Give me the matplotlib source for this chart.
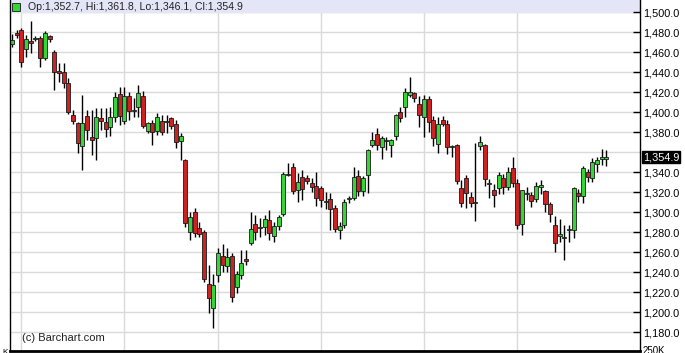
#!/usr/bin/env python3

import matplotlib
matplotlib.use('Agg')
import matplotlib.pyplot as plt
import matplotlib.ticker as tkr
import numpy as np

plt.rcParams['font.family'] = ['Liberation Sans', 'DejaVu Sans']

# daily OHLC
opens = [1468, 1479, 1482, 1463, 1471, 1473, 1474, 1454, 1476, 1460, 1441, 1440, 1429, 1397, 1389, 1366,
         1396, 1375, 1374, 1394, 1390, 1385, 1395, 1418, 1391, 1416, 1401, 1405, 1416, 1381, 1389, 1381,
         1391, 1390, 1394, 1388, 1371, 1352, 1280, 1300, 1284, 1280, 1228, 1204, 1237, 1256, 1246, 1256,
         1225, 1237, 1253, 1269, 1288, 1284, 1285, 1292, 1276, 1286, 1298, 1338, 1345, 1322, 1335, 1334,
         1329, 1326, 1324, 1310, 1313, 1304, 1282, 1287, 1313, 1314, 1336, 1321, 1337, 1367, 1378, 1365,
         1371, 1367, 1376, 1400, 1405, 1417, 1419, 1408, 1395, 1413, 1392, 1368, 1392, 1388, 1365, 1367,
         1324, 1334, 1315, 1309, 1366, 1367, 1328, 1322, 1324, 1334, 1325, 1344, 1329, 1288, 1318, 1317,
         1313, 1325, 1321, 1308, 1287, 1276, 1274, 1282, 1282, 1319, 1316, 1340, 1334, 1348, 1353, 1352.7]
highs = [1478, 1482, 1484, 1477, 1491, 1476, 1476, 1481, 1477, 1462, 1449, 1449, 1434, 1402, 1390, 1417,
         1402, 1402, 1404, 1404, 1404, 1405, 1420, 1425, 1425, 1420, 1414, 1427, 1421, 1390, 1392, 1399,
         1397, 1397, 1395, 1392, 1379, 1353, 1300, 1304, 1290, 1282, 1247, 1238, 1264, 1268, 1264, 1259,
         1241, 1262, 1262, 1300, 1297, 1294, 1297, 1302, 1290, 1297, 1340, 1349, 1349, 1339, 1342, 1337,
         1334, 1340, 1326, 1320, 1319, 1307, 1290, 1313, 1316, 1345, 1342, 1336, 1363, 1380, 1384, 1376,
         1375, 1373, 1398, 1405, 1424, 1435, 1420, 1416, 1417, 1416, 1396, 1395, 1396, 1392, 1367, 1368,
         1332, 1337, 1320, 1369, 1376, 1368, 1333, 1328, 1340, 1338, 1345, 1355, 1333, 1322, 1325, 1320,
         1330, 1332, 1322, 1310, 1296, 1293, 1287, 1287, 1325, 1323, 1346, 1343, 1354, 1355, 1363, 1361.8]
lows = [1465, 1474, 1445, 1455, 1459, 1471, 1445, 1452, 1470, 1422, 1430, 1424, 1398, 1388, 1359, 1342,
        1372, 1357, 1352, 1382, 1375, 1376, 1390, 1387, 1388, 1392, 1395, 1395, 1384, 1379, 1367, 1377,
        1377, 1379, 1383, 1364, 1352, 1285, 1272, 1275, 1275, 1230, 1199, 1184, 1230, 1240, 1240, 1210,
        1219, 1233, 1247, 1267, 1272, 1275, 1277, 1272, 1270, 1282, 1296, 1336, 1318, 1310, 1312, 1328,
        1320, 1306, 1305, 1303, 1282, 1280, 1273, 1284, 1309, 1312, 1316, 1316, 1319, 1365, 1362, 1353,
        1362, 1355, 1372, 1390, 1395, 1415, 1410, 1385, 1375, 1380, 1366, 1359, 1386, 1358, 1355, 1328,
        1305, 1304, 1305, 1291, 1362, 1326, 1314, 1305, 1318, 1318, 1322, 1325, 1283, 1277, 1312, 1305,
        1310, 1318, 1300, 1290, 1260, 1270, 1252, 1270, 1274, 1310, 1309, 1330, 1330, 1340, 1347, 1346.1]
closes = [1472, 1477, 1450, 1473, 1469, 1474, 1454, 1479, 1473, 1440, 1439, 1429, 1400, 1391, 1369, 1389,
          1382, 1372, 1395, 1391, 1383, 1395, 1415, 1396, 1416, 1401, 1402, 1419, 1386, 1389, 1380, 1395,
          1380, 1391, 1386, 1370, 1376, 1289, 1295, 1279, 1278, 1233, 1214, 1227, 1259, 1247, 1255, 1215,
          1238, 1249, 1251, 1283, 1280, 1285, 1293, 1279, 1286, 1295, 1338, 1337, 1321, 1330, 1323, 1331,
          1325, 1314, 1312, 1311, 1303, 1283, 1286, 1310, 1314, 1335, 1321, 1334, 1362, 1372, 1367, 1374,
          1372, 1372, 1397, 1394, 1420, 1420, 1414, 1397, 1413, 1390, 1374, 1388, 1388, 1365, 1366, 1331,
          1309, 1319, 1309, 1310, 1370, 1333, 1329, 1317, 1337, 1325, 1340, 1329, 1287, 1322, 1319, 1311,
          1326, 1327, 1308, 1298, 1269, 1278, 1275, 1283, 1324, 1316, 1344, 1335, 1350, 1352, 1355, 1354.9]
month_starts = [2, 24, 44, 66, 88, 108]
price_ticks = [1180, 1200, 1220, 1240, 1260, 1280, 1300, 1320, 1340, 1380, 1400, 1420, 1440, 1460, 1480, 1500]

o = np.array(opens)
h = np.array(highs)
l = np.array(lows)
c = np.array(closes)
x = np.arange(len(o))

fig = plt.figure(figsize=(6.85, 3.53), dpi=100)
ax = fig.add_axes([10 / 685, 2 / 353, 630 / 685, 351 / 353])

ax.set_xlim(-0.45, 134.2)
ax.set_ylim(1161, 1512)

# grid
for v in range(1180, 1501, 20):
    ax.axhline(v, color='#dadada', lw=1, zorder=0)
for m in month_starts:
    ax.axvline(m, color='#dadada', lw=1, zorder=0)

# header band
ax.axhspan(1500, 1512, color='#e4e6f8', zorder=0.5)

up = c >= o
colors = np.where(up, '#35d535', '#cc2222')
ax.vlines(x, l, h, color='black', lw=1, zorder=1)
bottom = np.minimum(o, c)
height = np.maximum(np.abs(c - o), 1.2)
ax.bar(x, height, bottom=bottom, width=0.86, color=colors, edgecolor='#1a1a1a', lw=0.6, zorder=2)

# axes look
ax.spines['top'].set_visible(False)
ax.spines['left'].set_linewidth(1)
ax.spines['right'].set_linewidth(1)
ax.spines['bottom'].set_linewidth(2)
ax.set_xticks([])
ax.yaxis.tick_right()
ax.yaxis.set_major_locator(tkr.FixedLocator(price_ticks))
ax.yaxis.set_major_formatter(tkr.FuncFormatter(lambda v, p: '{:,.1f}'.format(v)))
ax.tick_params(axis='y', direction='in', length=5, width=1, pad=2.5, labelsize=7.8)

# last price marker
ax.text(1.0045, c[-1], '{:,.1f}'.format(c[-1]), transform=ax.get_yaxis_transform(),
        fontsize=7.8, color='white', va='center', ha='left',
        bbox=dict(boxstyle='square,pad=0.1', fc='black', ec='black'))

# ohlc header
ax.plot([0.0095], [0.9805], marker='s', ms=5.5, mfc='#35d535', mec='#1a1a1a', mew=0.6,
        transform=ax.transAxes, clip_on=False)
ax.text(0.028, 0.981, 'Op:{:,.1f}, Hi:{:,.1f}, Lo:{:,.1f}, Cl:{:,.1f}'.format(o[-1], h[-1], l[-1], c[-1]),
        transform=ax.transAxes, fontsize=7.6, va='center', ha='left', color='#222222')

ax.text(0.019, 0.022, '(c) Barchart.com', transform=ax.transAxes, fontsize=8, va='bottom', color='#222222')
fig.text(643 / 685, -3 / 353, '250K', fontsize=7, va='bottom', ha='left')
fig.text(2 / 685, -3 / 353, 'K', fontsize=6, va='bottom', ha='left')

fig.savefig('out.png', dpi=100)
